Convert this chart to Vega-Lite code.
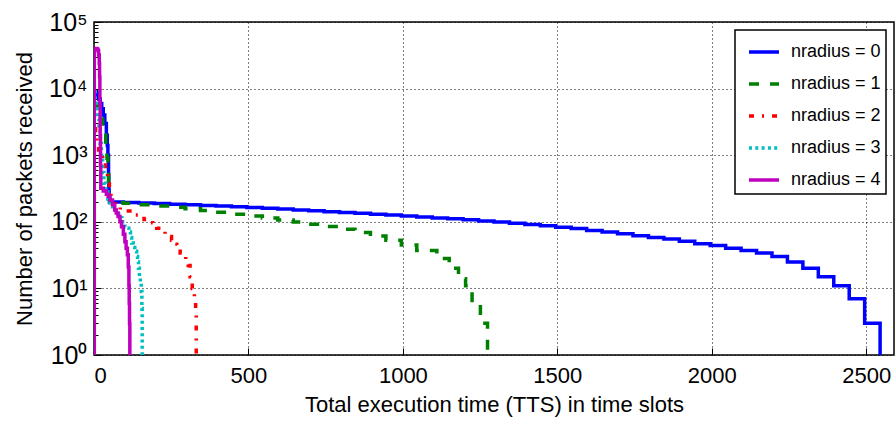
{
  "$schema": "https://vega.github.io/schema/vega-lite/v6.json",
  "width": 800,
  "height": 333,
  "autosize": "none",
  "padding": {"left": 94, "top": 22, "right": 1, "bottom": 68},
  "background": "white",
  "config": {
    "font": "Liberation Sans",
    "view": {"stroke": "black", "strokeWidth": 1.5},
    "legend": {"strokeColor": "black", "strokeWidth": 1.5},
    "axis": {
      "domain": false,
      "grid": true,
      "gridColor": "black",
      "gridDash": [1, 3],
      "gridWidth": 1,
      "tickColor": "black",
      "tickSize": -7,
      "tickWidth": 1,
      "labelColor": "black",
      "labelFont": "Liberation Sans",
      "labelFontSize": 22,
      "titleFont": "Liberation Sans",
      "titleFontSize": 22,
      "titleFontWeight": "normal",
      "titleColor": "black"
    }
  },
  "data": {
    "values": [
      {"series": "nradius = 0", "tts": 0, "packets": 9000},
      {"series": "nradius = 0", "tts": 8, "packets": 8000},
      {"series": "nradius = 0", "tts": 15, "packets": 7000},
      {"series": "nradius = 0", "tts": 20, "packets": 6000},
      {"series": "nradius = 0", "tts": 25, "packets": 5000},
      {"series": "nradius = 0", "tts": 30, "packets": 4000},
      {"series": "nradius = 0", "tts": 35, "packets": 3000},
      {"series": "nradius = 0", "tts": 40, "packets": 2000},
      {"series": "nradius = 0", "tts": 43, "packets": 1400},
      {"series": "nradius = 0", "tts": 45, "packets": 1000},
      {"series": "nradius = 0", "tts": 47, "packets": 500},
      {"series": "nradius = 0", "tts": 48, "packets": 300},
      {"series": "nradius = 0", "tts": 49, "packets": 220},
      {"series": "nradius = 0", "tts": 50, "packets": 198},
      {"series": "nradius = 0", "tts": 95, "packets": 195},
      {"series": "nradius = 0", "tts": 145, "packets": 192},
      {"series": "nradius = 0", "tts": 195, "packets": 188},
      {"series": "nradius = 0", "tts": 245, "packets": 184},
      {"series": "nradius = 0", "tts": 295, "packets": 180},
      {"series": "nradius = 0", "tts": 345, "packets": 176},
      {"series": "nradius = 0", "tts": 395, "packets": 172},
      {"series": "nradius = 0", "tts": 445, "packets": 168},
      {"series": "nradius = 0", "tts": 495, "packets": 164},
      {"series": "nradius = 0", "tts": 545, "packets": 160},
      {"series": "nradius = 0", "tts": 595, "packets": 156},
      {"series": "nradius = 0", "tts": 645, "packets": 150},
      {"series": "nradius = 0", "tts": 695, "packets": 146},
      {"series": "nradius = 0", "tts": 745, "packets": 142},
      {"series": "nradius = 0", "tts": 795, "packets": 138},
      {"series": "nradius = 0", "tts": 845, "packets": 134},
      {"series": "nradius = 0", "tts": 895, "packets": 130},
      {"series": "nradius = 0", "tts": 945, "packets": 126},
      {"series": "nradius = 0", "tts": 995, "packets": 122},
      {"series": "nradius = 0", "tts": 1045, "packets": 118},
      {"series": "nradius = 0", "tts": 1095, "packets": 114},
      {"series": "nradius = 0", "tts": 1145, "packets": 111},
      {"series": "nradius = 0", "tts": 1195, "packets": 107},
      {"series": "nradius = 0", "tts": 1245, "packets": 103},
      {"series": "nradius = 0", "tts": 1295, "packets": 99},
      {"series": "nradius = 0", "tts": 1345, "packets": 95},
      {"series": "nradius = 0", "tts": 1395, "packets": 91},
      {"series": "nradius = 0", "tts": 1445, "packets": 87},
      {"series": "nradius = 0", "tts": 1495, "packets": 83},
      {"series": "nradius = 0", "tts": 1545, "packets": 79},
      {"series": "nradius = 0", "tts": 1595, "packets": 74},
      {"series": "nradius = 0", "tts": 1645, "packets": 70},
      {"series": "nradius = 0", "tts": 1695, "packets": 66},
      {"series": "nradius = 0", "tts": 1745, "packets": 62},
      {"series": "nradius = 0", "tts": 1795, "packets": 58},
      {"series": "nradius = 0", "tts": 1845, "packets": 55},
      {"series": "nradius = 0", "tts": 1895, "packets": 51},
      {"series": "nradius = 0", "tts": 1945, "packets": 47},
      {"series": "nradius = 0", "tts": 1995, "packets": 44},
      {"series": "nradius = 0", "tts": 2045, "packets": 40},
      {"series": "nradius = 0", "tts": 2095, "packets": 37},
      {"series": "nradius = 0", "tts": 2145, "packets": 34},
      {"series": "nradius = 0", "tts": 2195, "packets": 30},
      {"series": "nradius = 0", "tts": 2245, "packets": 25},
      {"series": "nradius = 0", "tts": 2295, "packets": 20},
      {"series": "nradius = 0", "tts": 2345, "packets": 15},
      {"series": "nradius = 0", "tts": 2395, "packets": 11},
      {"series": "nradius = 0", "tts": 2445, "packets": 7},
      {"series": "nradius = 0", "tts": 2495, "packets": 3},
      {"series": "nradius = 0", "tts": 2545, "packets": 0.1},

      {"series": "nradius = 1", "tts": 0, "packets": 6000},
      {"series": "nradius = 1", "tts": 8, "packets": 5500},
      {"series": "nradius = 1", "tts": 15, "packets": 4500},
      {"series": "nradius = 1", "tts": 22, "packets": 3500},
      {"series": "nradius = 1", "tts": 28, "packets": 2700},
      {"series": "nradius = 1", "tts": 33, "packets": 2000},
      {"series": "nradius = 1", "tts": 38, "packets": 1400},
      {"series": "nradius = 1", "tts": 42, "packets": 900},
      {"series": "nradius = 1", "tts": 45, "packets": 600},
      {"series": "nradius = 1", "tts": 47, "packets": 350},
      {"series": "nradius = 1", "tts": 49, "packets": 220},
      {"series": "nradius = 1", "tts": 51, "packets": 195},
      {"series": "nradius = 1", "tts": 95, "packets": 190},
      {"series": "nradius = 1", "tts": 145, "packets": 180},
      {"series": "nradius = 1", "tts": 195, "packets": 172},
      {"series": "nradius = 1", "tts": 245, "packets": 165},
      {"series": "nradius = 1", "tts": 295, "packets": 157},
      {"series": "nradius = 1", "tts": 345, "packets": 148},
      {"series": "nradius = 1", "tts": 395, "packets": 139},
      {"series": "nradius = 1", "tts": 445, "packets": 130},
      {"series": "nradius = 1", "tts": 495, "packets": 122},
      {"series": "nradius = 1", "tts": 545, "packets": 114},
      {"series": "nradius = 1", "tts": 595, "packets": 106},
      {"series": "nradius = 1", "tts": 645, "packets": 99},
      {"series": "nradius = 1", "tts": 695, "packets": 92},
      {"series": "nradius = 1", "tts": 745, "packets": 85},
      {"series": "nradius = 1", "tts": 795, "packets": 77},
      {"series": "nradius = 1", "tts": 845, "packets": 69},
      {"series": "nradius = 1", "tts": 895, "packets": 61},
      {"series": "nradius = 1", "tts": 945, "packets": 53},
      {"series": "nradius = 1", "tts": 995, "packets": 45},
      {"series": "nradius = 1", "tts": 1045, "packets": 37},
      {"series": "nradius = 1", "tts": 1110, "packets": 28},
      {"series": "nradius = 1", "tts": 1150, "packets": 20},
      {"series": "nradius = 1", "tts": 1180, "packets": 14},
      {"series": "nradius = 1", "tts": 1203, "packets": 11},
      {"series": "nradius = 1", "tts": 1224, "packets": 6},
      {"series": "nradius = 1", "tts": 1251, "packets": 3},
      {"series": "nradius = 1", "tts": 1274, "packets": 0.1},

      {"series": "nradius = 2", "tts": 0, "packets": 2500},
      {"series": "nradius = 2", "tts": 5, "packets": 2000},
      {"series": "nradius = 2", "tts": 10, "packets": 1500},
      {"series": "nradius = 2", "tts": 15, "packets": 1200},
      {"series": "nradius = 2", "tts": 20, "packets": 1000},
      {"series": "nradius = 2", "tts": 28, "packets": 800},
      {"series": "nradius = 2", "tts": 37, "packets": 600},
      {"series": "nradius = 2", "tts": 44, "packets": 420},
      {"series": "nradius = 2", "tts": 50, "packets": 280},
      {"series": "nradius = 2", "tts": 55, "packets": 200},
      {"series": "nradius = 2", "tts": 60, "packets": 185},
      {"series": "nradius = 2", "tts": 70, "packets": 170},
      {"series": "nradius = 2", "tts": 85, "packets": 153},
      {"series": "nradius = 2", "tts": 100, "packets": 145},
      {"series": "nradius = 2", "tts": 122, "packets": 134},
      {"series": "nradius = 2", "tts": 135, "packets": 127},
      {"series": "nradius = 2", "tts": 149, "packets": 120},
      {"series": "nradius = 2", "tts": 162, "packets": 108},
      {"series": "nradius = 2", "tts": 176, "packets": 97},
      {"series": "nradius = 2", "tts": 190, "packets": 88},
      {"series": "nradius = 2", "tts": 203, "packets": 80},
      {"series": "nradius = 2", "tts": 217, "packets": 73},
      {"series": "nradius = 2", "tts": 230, "packets": 66},
      {"series": "nradius = 2", "tts": 240, "packets": 60},
      {"series": "nradius = 2", "tts": 251, "packets": 53},
      {"series": "nradius = 2", "tts": 260, "packets": 46},
      {"series": "nradius = 2", "tts": 268, "packets": 39},
      {"series": "nradius = 2", "tts": 279, "packets": 34},
      {"series": "nradius = 2", "tts": 289, "packets": 30},
      {"series": "nradius = 2", "tts": 297, "packets": 26},
      {"series": "nradius = 2", "tts": 305, "packets": 22},
      {"series": "nradius = 2", "tts": 311, "packets": 15},
      {"series": "nradius = 2", "tts": 318, "packets": 10},
      {"series": "nradius = 2", "tts": 325, "packets": 7},
      {"series": "nradius = 2", "tts": 329, "packets": 4},
      {"series": "nradius = 2", "tts": 331, "packets": 0.1},

      {"series": "nradius = 3", "tts": 0, "packets": 9000},
      {"series": "nradius = 3", "tts": 4, "packets": 7000},
      {"series": "nradius = 3", "tts": 8, "packets": 5000},
      {"series": "nradius = 3", "tts": 12, "packets": 3500},
      {"series": "nradius = 3", "tts": 16, "packets": 2400},
      {"series": "nradius = 3", "tts": 20, "packets": 1500},
      {"series": "nradius = 3", "tts": 24, "packets": 900},
      {"series": "nradius = 3", "tts": 28, "packets": 550},
      {"series": "nradius = 3", "tts": 32, "packets": 380},
      {"series": "nradius = 3", "tts": 38, "packets": 280},
      {"series": "nradius = 3", "tts": 45, "packets": 220},
      {"series": "nradius = 3", "tts": 52, "packets": 168},
      {"series": "nradius = 3", "tts": 60, "packets": 150},
      {"series": "nradius = 3", "tts": 70, "packets": 130},
      {"series": "nradius = 3", "tts": 80, "packets": 115},
      {"series": "nradius = 3", "tts": 90, "packets": 100},
      {"series": "nradius = 3", "tts": 100, "packets": 84},
      {"series": "nradius = 3", "tts": 105, "packets": 80},
      {"series": "nradius = 3", "tts": 113, "packets": 70},
      {"series": "nradius = 3", "tts": 118, "packets": 58},
      {"series": "nradius = 3", "tts": 122, "packets": 48},
      {"series": "nradius = 3", "tts": 127, "packets": 41},
      {"series": "nradius = 3", "tts": 132, "packets": 36},
      {"series": "nradius = 3", "tts": 138, "packets": 30},
      {"series": "nradius = 3", "tts": 141, "packets": 25},
      {"series": "nradius = 3", "tts": 144, "packets": 20},
      {"series": "nradius = 3", "tts": 147, "packets": 15},
      {"series": "nradius = 3", "tts": 150, "packets": 12},
      {"series": "nradius = 3", "tts": 153, "packets": 9},
      {"series": "nradius = 3", "tts": 155, "packets": 5},
      {"series": "nradius = 3", "tts": 156, "packets": 0.1},

      {"series": "nradius = 4", "tts": 0, "packets": 0.1},
      {"series": "nradius = 4", "tts": 1, "packets": 40000},
      {"series": "nradius = 4", "tts": 10, "packets": 39000},
      {"series": "nradius = 4", "tts": 13, "packets": 37000},
      {"series": "nradius = 4", "tts": 15, "packets": 32000},
      {"series": "nradius = 4", "tts": 17, "packets": 24000},
      {"series": "nradius = 4", "tts": 18, "packets": 15000},
      {"series": "nradius = 4", "tts": 19, "packets": 6000},
      {"series": "nradius = 4", "tts": 20, "packets": 2000},
      {"series": "nradius = 4", "tts": 21, "packets": 700},
      {"series": "nradius = 4", "tts": 22, "packets": 320},
      {"series": "nradius = 4", "tts": 30, "packets": 290},
      {"series": "nradius = 4", "tts": 40, "packets": 260},
      {"series": "nradius = 4", "tts": 46, "packets": 240},
      {"series": "nradius = 4", "tts": 52, "packets": 212},
      {"series": "nradius = 4", "tts": 60, "packets": 180},
      {"series": "nradius = 4", "tts": 67, "packets": 150},
      {"series": "nradius = 4", "tts": 72, "packets": 135},
      {"series": "nradius = 4", "tts": 78, "packets": 120},
      {"series": "nradius = 4", "tts": 84, "packets": 100},
      {"series": "nradius = 4", "tts": 89, "packets": 84},
      {"series": "nradius = 4", "tts": 95, "packets": 65},
      {"series": "nradius = 4", "tts": 100, "packets": 50},
      {"series": "nradius = 4", "tts": 104, "packets": 40},
      {"series": "nradius = 4", "tts": 108, "packets": 32},
      {"series": "nradius = 4", "tts": 111, "packets": 21},
      {"series": "nradius = 4", "tts": 113, "packets": 11},
      {"series": "nradius = 4", "tts": 114, "packets": 6},
      {"series": "nradius = 4", "tts": 115, "packets": 3},
      {"series": "nradius = 4", "tts": 116, "packets": 0.1}
    ]
  },
  "mark": {"type": "line", "interpolate": "step-after", "clip": true, "strokeWidth": 3.5},
  "encoding": {
    "x": {
      "field": "tts",
      "type": "quantitative",
      "scale": {"domain": [0, 2590], "nice": false, "zero": false},
      "axis": {
        "values": [0, 500, 1000, 1500, 2000, 2500],
        "format": "d",
        "title": "Total execution time (TTS) in time slots",
        "labelPadding": 17,
        "titlePadding": 8
      }
    },
    "y": {
      "field": "packets",
      "type": "quantitative",
      "scale": {"type": "log", "domain": [1, 100000], "nice": false},
      "axis": {
        "values": [1, 2, 3, 4, 5, 6, 7, 8, 9, 10, 20, 30, 40, 50, 60, 70, 80, 90, 100, 200, 300, 400, 500, 600, 700, 800, 900, 1000, 2000, 3000, 4000, 5000, 6000, 7000, 8000, 9000, 10000, 20000, 30000, 40000, 50000, 60000, 70000, 80000, 90000, 100000],
        "labelExpr": "abs(log(datum.value)/LN10 - round(log(datum.value)/LN10)) < 0.001 ? '10' + ['⁰','¹','²','³','⁴','⁵'][round(log(datum.value)/LN10)] : ''",
        "gridOpacity": {"condition": {"test": "abs(log(datum.value)/LN10 - round(log(datum.value)/LN10)) < 0.001", "value": 1}, "value": 0},
        "tickSize": {"condition": {"test": "abs(log(datum.value)/LN10 - round(log(datum.value)/LN10)) < 0.001", "value": -7}, "value": -4},
        "labelFontSize": 25,
        "title": "Number of packets received",
        "labelPadding": 14,
        "titlePadding": 12
      }
    },
    "color": {
      "field": "series",
      "type": "nominal",
      "scale": {
        "domain": ["nradius = 0", "nradius = 1", "nradius = 2", "nradius = 3", "nradius = 4"],
        "range": ["#0000ff", "#008000", "#ff0000", "#00bfbf", "#bf00bf"]
      },
      "legend": {
        "title": null,
        "orient": "top-right",
        "offset": 8,
        "fillColor": "white",
        "strokeColor": "black",
        "padding": 5,
        "cornerRadius": 0,
        "symbolType": "stroke",
        "symbolSize": 900,
        "symbolStrokeWidth": 3.5,
        "symbolOffset": 7,
        "labelFont": "Liberation Sans",
        "labelFontSize": 18,
        "labelColor": "black",
        "rowPadding": 6,
        "labelOffset": 10
      }
    },
    "strokeDash": {
      "field": "series",
      "type": "nominal",
      "scale": {
        "domain": ["nradius = 0", "nradius = 1", "nradius = 2", "nradius = 3", "nradius = 4"],
        "range": [[1, 0], [10, 11], [5, 8, 2, 8], [3, 3.3], [1, 0]]
      },
      "legend": {
        "title": null,
        "orient": "top-right",
        "offset": 8,
        "fillColor": "white",
        "strokeColor": "black",
        "padding": 5,
        "cornerRadius": 0,
        "symbolType": "stroke",
        "symbolSize": 900,
        "symbolStrokeWidth": 3.5,
        "symbolOffset": 7,
        "labelFont": "Liberation Sans",
        "labelFontSize": 18,
        "labelColor": "black",
        "rowPadding": 6,
        "labelOffset": 10
      }
    }
  }
}
